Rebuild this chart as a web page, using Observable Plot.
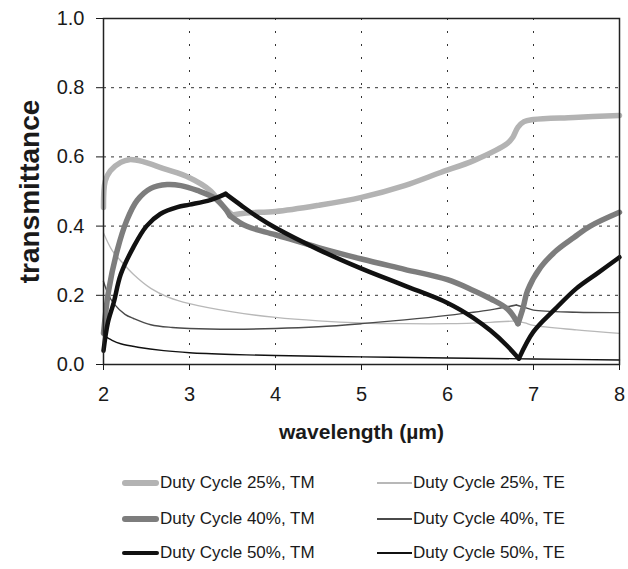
<!DOCTYPE html>
<html>
<head>
<meta charset="utf-8">
<script src="https://cdn.jsdelivr.net/npm/d3@7"></script>
<script src="https://cdn.jsdelivr.net/npm/@observablehq/plot@0.6"></script>
<style>
  body { margin: 0; background: #fff; font-family: "Liberation Sans", Arial, Helvetica, sans-serif; }
  #chart { width: 628px; }
  #legend { position: relative; width: 628px; height: 114px; color: #1a1a1a; font-size: 17px; }
  .item { position: absolute; display: flex; align-items: center; white-space: nowrap; }
  .sw { display: inline-block; margin-right: 1px; }
</style>
</head>
<body>
<div id="chart"></div>
<div id="legend"></div>
<script>
// ---- data ----
const xTicks = [2, 3, 4, 5, 6, 7, 8];
const yTicks = [0, 0.2, 0.4, 0.6, 0.8, 1.0];
const xLabel = "wavelength (µm)";
const yLabel = "transmittance";

const seriesNames = ["Duty Cycle 25%, TM", "Duty Cycle 40%, TM", "Duty Cycle 50%, TM",
                     "Duty Cycle 25%, TE", "Duty Cycle 40%, TE", "Duty Cycle 50%, TE"];

const tm25Lambda = [2.0, 2.02, 2.08, 2.2, 2.3, 2.45, 2.7, 3.0, 3.24, 3.4, 3.5, 3.66, 4.0, 4.5, 5.0, 5.5, 5.92, 6.31, 6.7, 6.76, 6.82, 6.89, 7.0, 7.47, 8.0];
const tm25T      = [0.454, 0.53, 0.56, 0.584, 0.592, 0.587, 0.566, 0.54, 0.503, 0.455, 0.432, 0.438, 0.442, 0.46, 0.483, 0.517, 0.555, 0.59, 0.64, 0.657, 0.686, 0.702, 0.708, 0.714, 0.72];

const tm40Lambda = [2.0, 2.06, 2.16, 2.27, 2.39, 2.55, 2.74, 2.9, 3.09, 3.28, 3.4, 3.47, 3.66, 4.0, 4.5, 5.0, 5.5, 6.0, 6.3, 6.5, 6.7, 6.82, 6.88, 6.93, 7.08, 7.27, 7.47, 7.66, 8.0];
const tm40T      = [0.09, 0.214, 0.33, 0.416, 0.474, 0.509, 0.52, 0.517, 0.503, 0.483, 0.455, 0.43, 0.40, 0.375, 0.338, 0.305, 0.275, 0.245, 0.214, 0.19, 0.16, 0.118, 0.165, 0.213, 0.28, 0.33, 0.367, 0.40, 0.44];

const tm50Lambda = [2.0, 2.05, 2.12, 2.2, 2.35, 2.5, 2.66, 2.86, 3.0, 3.24, 3.42, 3.6, 3.8, 4.0, 4.5, 5.0, 5.5, 6.0, 6.3, 6.5, 6.69, 6.83, 7.0, 7.25, 7.5, 7.75, 8.0];
const tm50T      = [0.04, 0.12, 0.18, 0.26, 0.34, 0.40, 0.435, 0.455, 0.462, 0.475, 0.493, 0.46, 0.425, 0.395, 0.332, 0.277, 0.228, 0.178, 0.135, 0.098, 0.055, 0.017, 0.095, 0.16, 0.22, 0.265, 0.31];

const te25Lambda = [2.0, 2.1, 2.2, 2.35, 2.55, 2.75, 3.0, 3.5, 4.0, 4.5, 5.0, 5.5, 6.0, 6.5, 6.8, 6.9, 7.0, 7.5, 8.0];
const te25T      = [0.38, 0.33, 0.30, 0.26, 0.22, 0.195, 0.176, 0.152, 0.136, 0.126, 0.12, 0.118, 0.118, 0.122, 0.126, 0.12, 0.113, 0.10, 0.09];

const te40Lambda = [2.0, 2.06, 2.12, 2.25, 2.35, 2.55, 2.8, 3.0, 3.5, 4.0, 4.5, 5.0, 5.5, 6.0, 6.5, 6.8, 6.9, 7.0, 7.5, 8.0];
const te40T      = [0.24, 0.20, 0.176, 0.145, 0.133, 0.115, 0.107, 0.104, 0.102, 0.104, 0.109, 0.118, 0.129, 0.142, 0.158, 0.172, 0.165, 0.157, 0.151, 0.15];

const te50Lambda = [2.0, 2.1, 2.2, 2.4, 2.7, 3.0, 3.5, 4.0, 5.0, 6.0, 7.0, 8.0];
const te50T      = [0.085, 0.07, 0.06, 0.05, 0.04, 0.034, 0.029, 0.026, 0.022, 0.019, 0.016, 0.013];

// sharp corners (cusps) in each curve, by wavelength
const tm25Cusps = [3.5];
const tm40Cusps = [3.47, 6.82];
const tm50Cusps = [3.42, 6.83];
const te25Cusps = [6.8];
const te40Cusps = [6.8];
const te50Cusps = [];

// ---- styles ----
const styles = {
  "Duty Cycle 25%, TM": {stroke: "#b3b3b3", width: 5.5},
  "Duty Cycle 40%, TM": {stroke: "#7d7d7d", width: 5.5},
  "Duty Cycle 50%, TM": {stroke: "#111111", width: 4.5},
  "Duty Cycle 25%, TE": {stroke: "#b8b8b8", width: 1.3},
  "Duty Cycle 40%, TE": {stroke: "#4a4a4a", width: 1.4},
  "Duty Cycle 50%, TE": {stroke: "#111111", width: 1.4}
};

const lamArrays  = [tm25Lambda, tm40Lambda, tm50Lambda, te25Lambda, te40Lambda, te50Lambda];
const tArrays    = [tm25T, tm40T, tm50T, te25T, te40T, te50T];
const cuspArrays = [tm25Cusps, tm40Cusps, tm50Cusps, te25Cusps, te40Cusps, te50Cusps];

// split each curve into smooth pieces at its cusps (cusp point shared)
function rows(i) {
  const out = [];
  let seg = 0;
  lamArrays[i].forEach((l, j) => {
    const r = {lambda: l, T: tArrays[i][j]};
    out.push({...r, seg});
    if (cuspArrays[i].includes(l)) { seg += 1; out.push({...r, seg}); }
  });
  return out;
}

const drawOrder = [3, 4, 5, 0, 1, 2];
const lineMarks = drawOrder.map(i => Plot.line(rows(i), {
  x: "lambda", y: "T", z: "seg",
  stroke: styles[seriesNames[i]].stroke,
  strokeWidth: styles[seriesNames[i]].width,
  strokeLinejoin: "round", strokeLinecap: "round",
  curve: "catmull-rom"
}));

const chart = Plot.plot({
  width: 628,
  height: 455,
  marginLeft: 103,
  marginRight: 9,
  marginTop: 18,
  marginBottom: 91,
  style: {fontFamily: "'Liberation Sans', Arial, Helvetica, sans-serif", fontSize: "20px", color: "#1a1a1a", background: "#fff"},
  x: {domain: [2, 8]},
  y: {domain: [0, 1]},
  marks: [
    Plot.gridY([0.2, 0.4, 0.6, 0.8], {stroke: "#333", strokeOpacity: 1, strokeWidth: 1, strokeDasharray: "3,5"}),
    Plot.gridX([3, 4, 5, 6, 7], {stroke: "#333", strokeOpacity: 1, strokeWidth: 1, strokeDasharray: "2,11"}),
    Plot.axisX(xTicks, {tickSize: 6, tickPadding: 16, label: null, fontSize: 20, tickFormat: d => String(d)}),
    Plot.axisY(yTicks, {tickSize: 7, tickPadding: 12, label: null, fontSize: 20, tickFormat: d3.format(".1f")}),
    ...lineMarks,
    Plot.frame({stroke: "#222", strokeWidth: 1.5}),
    Plot.text([xLabel], {frameAnchor: "bottom", dy: 74, text: d => d, fontSize: 21, fontWeight: "bold", fill: "#1a1a1a"}),
    Plot.text([yLabel], {frameAnchor: "left", dx: -73, rotate: -90, textAnchor: "middle", text: d => d, fontSize: 28, fontWeight: "bold", fill: "#1a1a1a"})
  ]
});
document.getElementById("chart").appendChild(chart);

// ---- legend (HTML) ----
const legendPos = [
  {i: 0, x: 122, y: 28}, {i: 1, x: 122, y: 64}, {i: 2, x: 122, y: 98},
  {i: 3, x: 377, y: 28}, {i: 4, x: 377, y: 64}, {i: 5, x: 377, y: 98}
];
const legend = document.getElementById("legend");
legendPos.forEach(p => {
  const name = seriesNames[p.i];
  const st = styles[name];
  const item = document.createElement("div");
  item.className = "item";
  item.style.left = p.x + "px";
  item.style.top = (p.y - 11) + "px";
  item.style.height = "22px";
  const sw = document.createElement("span");
  sw.className = "sw";
  const w = p.i < 3 ? 37 : 35;
  sw.style.width = w + "px";
  sw.style.height = Math.max(1, st.width) + "px";
  sw.style.background = st.stroke;
  sw.style.borderRadius = p.i < 3 ? "3px" : "0";
  const tx = document.createElement("span");
  tx.textContent = name;
  item.appendChild(sw);
  item.appendChild(tx);
  legend.appendChild(item);
});
</script>
</body>
</html>
